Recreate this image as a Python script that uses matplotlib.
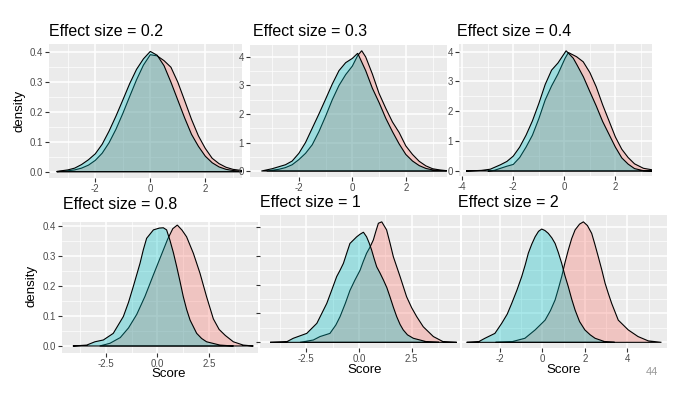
### Effect size density panels ###

import matplotlib.pyplot as plt
from matplotlib.colors import to_rgba


### ----- Data ----- ###

titles = ['Effect size = 0.2', 'Effect size = 0.3', 'Effect size = 0.4',
          'Effect size = 0.8', 'Effect size = 1', 'Effect size = 2']

# effect size 0.2
x1 = [-3.4, -3.0, -2.75, -2.5, -2.25, -2.0, -1.75, -1.5, -1.25, -1.0, -0.75, -0.5, -0.25, 0.0,
      0.25, 0.5, 0.75, 1.0, 1.25, 1.5, 1.75, 2.0, 2.25, 2.5, 2.75, 3.0, 3.4]
teal1 = [0.001, 0.006, 0.012, 0.024, 0.040, 0.060, 0.092, 0.136, 0.186, 0.240, 0.295, 0.343, 0.378, 0.403,
         0.390, 0.355, 0.300, 0.240, 0.180, 0.125, 0.085, 0.052, 0.030, 0.016, 0.008, 0.004, 0.001]
red1 = [0.0, 0.003, 0.006, 0.012, 0.022, 0.038, 0.062, 0.097, 0.142, 0.195, 0.252, 0.308, 0.357, 0.392,
        0.388, 0.372, 0.350, 0.300, 0.238, 0.175, 0.120, 0.078, 0.045, 0.027, 0.015, 0.008, 0.003]

# effect size 0.3
x2t = [-3.4, -3.0, -2.75, -2.5, -2.25, -2.0, -1.75, -1.5, -1.25, -1.0, -0.75, -0.5, -0.25, 0.0,
       0.2, 0.5, 0.75, 1.0, 1.25, 1.5, 1.75, 2.0, 2.25, 2.5, 2.75, 3.0, 3.5]
teal2 = [0.0, 0.008, 0.015, 0.022, 0.035, 0.062, 0.100, 0.150, 0.200, 0.252, 0.305, 0.352, 0.380, 0.395,
         0.413, 0.352, 0.290, 0.240, 0.185, 0.138, 0.095, 0.058, 0.035, 0.019, 0.009, 0.004, 0.0]
x2r = [-3.2, -2.75, -2.5, -2.25, -2.0, -1.75, -1.5, -1.25, -1.0, -0.75, -0.5, -0.25, 0.0, 0.2,
       0.35, 0.5, 0.75, 1.0, 1.25, 1.5, 1.75, 2.0, 2.25, 2.5, 2.75, 3.0, 3.25, 3.55]
red2 = [0.0, 0.006, 0.012, 0.022, 0.040, 0.062, 0.092, 0.138, 0.192, 0.250, 0.300, 0.338, 0.368, 0.405,
        0.422, 0.400, 0.340, 0.272, 0.220, 0.172, 0.135, 0.088, 0.058, 0.034, 0.018, 0.008, 0.004, 0.001]

# effect size 0.4
x3t = [-3.85, -3.25, -2.9, -2.5, -2.25, -2.0, -1.75, -1.5, -1.25, -1.0, -0.75, -0.5, -0.25, 0.07,
       0.35, 0.5, 0.75, 1.0, 1.25, 1.5, 1.75, 2.0, 2.25, 2.5, 2.75, 3.1, 3.45]
teal3 = [0.0, 0.002, 0.006, 0.021, 0.032, 0.050, 0.080, 0.120, 0.168, 0.226, 0.290, 0.338, 0.362, 0.403,
         0.378, 0.355, 0.315, 0.266, 0.218, 0.166, 0.123, 0.080, 0.044, 0.023, 0.008, 0.001, 0.0]
x3r = [-3.0, -2.75, -2.5, -2.25, -2.0, -1.75, -1.5, -1.25, -1.0, -0.75, -0.5, -0.25, 0.03,
       0.16, 0.48, 0.74, 1.0, 1.25, 1.5, 1.75, 2.0, 2.25, 2.5, 2.75, 3.1, 3.5]
red3 = [0.0, 0.002, 0.009, 0.016, 0.022, 0.045, 0.080, 0.120, 0.175, 0.238, 0.285, 0.325, 0.378,
        0.397, 0.383, 0.366, 0.330, 0.282, 0.222, 0.168, 0.114, 0.073, 0.045, 0.024, 0.009, 0.003]

# effect size 0.8
x4t = [-4.1, -3.43, -3.03, -2.62, -2.14, -1.65, -1.4, -1.17, -0.84, -0.68, -0.52, -0.19, 0.1, 0.29,
       0.45, 0.61, 0.78, 0.94, 1.1, 1.26, 1.42, 1.59, 1.91, 2.15, 2.39, 3.04, 3.7]
teal4 = [0.0, 0.003, 0.014, 0.020, 0.042, 0.098, 0.145, 0.197, 0.275, 0.320, 0.358, 0.386, 0.392, 0.393,
         0.386, 0.352, 0.310, 0.264, 0.215, 0.164, 0.122, 0.086, 0.042, 0.025, 0.014, 0.003, 0.0]
x4r = [-2.8, -2.3, -1.8, -1.4, -1.0, -0.6, -0.2, 0.15, 0.5, 0.75, 0.97, 1.2, 1.42, 1.75, 2.07,
       2.39, 2.72, 3.0, 3.3, 3.69, 4.17, 4.66]
red4 = [0.0, 0.009, 0.028, 0.060, 0.105, 0.165, 0.235, 0.295, 0.355, 0.390, 0.402, 0.385, 0.363, 0.308, 0.242,
        0.164, 0.090, 0.055, 0.035, 0.014, 0.003, 0.0]

# effect size 1
x5t = [-4.22, -3.43, -3.12, -2.48, -2.0, -1.53, -1.3, -1.06, -0.9, -0.74, -0.58, -0.43, -0.11, 0.05, 0.21,
       0.36, 0.48, 0.6, 0.72, 0.84, 1.0, 1.16, 1.32, 1.47, 1.63, 1.79, 1.95, 2.1, 2.3, 2.58, 3.21, 3.8]
teal5 = [0.0, 0.002, 0.014, 0.031, 0.066, 0.135, 0.180, 0.228, 0.250, 0.274, 0.310, 0.343, 0.366, 0.375, 0.382,
         0.366, 0.345, 0.320, 0.290, 0.262, 0.240, 0.216, 0.190, 0.158, 0.122, 0.089, 0.062, 0.043, 0.026, 0.014,
         0.002, 0.0]
x5r = [-2.8, -2.17, -1.85, -1.38, -1.1, -0.9, -0.65, -0.43, -0.2, 0.05, 0.2, 0.36, 0.52, 0.68, 0.8,
       0.92, 1.08, 1.31, 1.47, 1.63, 1.95, 2.26, 2.5, 2.74, 3.05, 3.53, 4.0, 4.64]
red5 = [0.0, 0.008, 0.020, 0.031, 0.060, 0.089, 0.135, 0.180, 0.215, 0.250, 0.280, 0.309, 0.330, 0.355, 0.385,
        0.413, 0.418, 0.390, 0.345, 0.297, 0.228, 0.158, 0.120, 0.089, 0.054, 0.020, 0.002, 0.0]

# effect size 2
x6t = [-3.56, -3.0, -2.7, -2.23, -1.91, -1.65, -1.44, -1.2, -0.97, -0.8, -0.66, -0.5, -0.34, -0.18, -0.03,
       0.12, 0.28, 0.45, 0.6, 0.75, 0.91, 1.06, 1.22, 1.38, 1.54, 1.75, 2.0, 2.25, 2.48, 2.95, 3.4]
teal6 = [0.0, 0.002, 0.014, 0.031, 0.066, 0.098, 0.135, 0.180, 0.228, 0.270, 0.309, 0.340, 0.366, 0.385, 0.393,
         0.388, 0.378, 0.362, 0.343, 0.312, 0.274, 0.232, 0.193, 0.150, 0.112, 0.072, 0.043, 0.026, 0.014, 0.002,
         0.0]
x6r = [-2.2, -1.44, -0.82, -0.34, 0.13, 0.38, 0.6, 0.75, 0.91, 1.06, 1.22, 1.38, 1.54, 1.75, 1.93,
       2.12, 2.32, 2.47, 2.63, 2.8, 2.95, 3.1, 3.26, 3.57, 4.04, 4.5, 4.98, 5.6]
red6 = [0.0, 0.002, 0.014, 0.043, 0.077, 0.110, 0.147, 0.185, 0.228, 0.275, 0.320, 0.360, 0.390, 0.410, 0.418,
        0.405, 0.378, 0.340, 0.297, 0.250, 0.205, 0.170, 0.135, 0.077, 0.043, 0.020, 0.005, 0.0]

yticks = [0.0, 0.1, 0.2, 0.3, 0.4]


### ----- Helpers ----- ###

W, H = 692, 397
TEAL = '#00BFC4'
RED = '#F8766D'
ALPHA = 0.33

plt.rcParams['font.family'] = ['Liberation Sans', 'DejaVu Sans']

fig = plt.figure(figsize=(W / 100, H / 100), dpi=100)
fig.patch.set_facecolor('white')


def txt(x, y, s, **kw):
    fig.text(x / W, 1 - y / H, s, **kw)


def desenha(ax, xs, ys, cor):
    xx = list(xs) + [xs[-1], xs[0]]
    yy = list(ys) + [0, 0]
    ax.fill(xx, yy, facecolor=to_rgba(cor, ALPHA), edgecolor='black', linewidth=0.8, zorder=3)


def painel(box, xlim, ylim, xticks, xlabels, xminor, ylabels, curvas):
    l, t, r, b = box
    ax = fig.add_axes([l / W, 1 - b / H, (r - l) / W, (b - t) / H])
    ax.set_facecolor('#EBEBEB')
    for s in ax.spines.values():
        s.set_visible(False)
    for xs, ys, cor in curvas:
        desenha(ax, xs, ys, cor)
    ax.set_xlim(xlim)
    ax.set_ylim(ylim)
    ax.set_xticks(xticks)
    ax.set_xticklabels(xlabels)
    ax.set_xticks(xminor, minor=True)
    ax.set_yticks(yticks)
    ax.set_yticks([0.05, 0.15, 0.25, 0.35], minor=True)
    if ylabels is None or ylabels == 'none':
        ax.set_yticklabels([])
    else:
        ax.set_yticklabels(ylabels)
    ax.grid(which='major', color='white', linewidth=1.1)
    ax.grid(which='minor', color='white', linewidth=0.5)
    ax.set_axisbelow(True)
    ax.tick_params(which='major', length=2.8, width=0.8, color='#333333',
                   labelcolor='#4D4D4D', labelsize=7, pad=1.5)
    if ylabels == 'none':
        ax.tick_params(axis='y', which='major', length=0)
    ax.tick_params(which='minor', length=0)
    return ax


### ----- Panels ----- ###

lab_dec = ['0.0', '0.1', '0.2', '0.3', '0.4']
lab_cut = ['0', '1', '2', '3', '4']

painel((49, 44, 242, 178), (-3.684, 3.335), (-0.0211, 0.4278),
       [-2, 0, 2], ['-2', '0', '2'], [-3, -1, 1, 3], lab_dec,
       [(x1, red1, RED), (x1, teal1, TEAL)])

painel((250, 45, 447, 177), (-3.826, 3.539), (-0.021, 0.442),
       [-2, 0, 2], ['-2', '0', '2'], [-3, -1, 1, 3], lab_cut,
       [(x2r, red2, RED), (x2t, teal2, TEAL)])

painel((459, 44, 652, 176), (-4.126, 3.434), (-0.0168, 0.4257),
       [-4, -2, 0, 2], ['-4', '-2', '0', '2'], [-3, -1, 1, 3], lab_cut,
       [(x3r, red3, RED), (x3t, teal3, TEAL)])

painel((62, 222, 258, 353), (-4.628, 4.887), (-0.0233, 0.4122),
       [-2.5, 0, 2.5], ['-2.5', '0.0', '2.5'], [-3.75, -1.25, 1.25, 3.75], lab_dec,
       [(x4r, red4, RED), (x4t, teal4, TEAL)])

painel((260, 215, 460, 348), (-4.699, 4.794), (-0.0197, 0.4417),
       [-2.5, 0, 2.5], ['-2.5', '0.0', '2.5'], [-3.75, -1.25, 1.25, 3.75], None,
       [(x5r, red5, RED), (x5t, teal5, TEAL)])

painel((462, 215, 667, 348), (-3.777, 5.861), (-0.0197, 0.4417),
       [-2, 0, 2, 4], ['-2', '0', '2', '4'], [-3, -1, 1, 3, 5], 'none',
       [(x6r, red6, RED), (x6t, teal6, TEAL)])


### ----- Text ----- ###

pos_titulos = [(49, 31), (253, 31), (457, 31), (63, 205), (260, 202), (458, 202)]
for (tx, ty), titulo in zip(pos_titulos, titles):
    txt(tx, ty, titulo, fontsize=11.5, ha='left', va='center', color='black')

txt(19, 111, 'density', fontsize=9.5, rotation=90, ha='center', va='center')
txt(32, 286, 'density', fontsize=9.5, rotation=90, ha='center', va='center')
txt(169, 374, 'Score', fontsize=9.5, ha='center', va='center')
txt(365, 370, 'Score', fontsize=9.5, ha='center', va='center')
txt(564, 370, 'Score', fontsize=9.5, ha='center', va='center')
txt(652, 372, '44', fontsize=8, ha='center', va='center', color='#999999')

fig.savefig('out.png', dpi=100)
